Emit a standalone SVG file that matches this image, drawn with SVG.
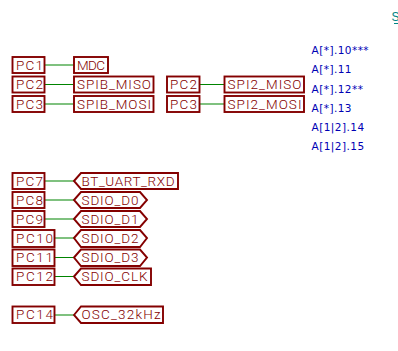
<svg xmlns="http://www.w3.org/2000/svg" width="398" height="351" viewBox="0 0 398 351">
<style>
.b{fill:#fff;stroke:#840000;stroke-width:1.9}
.t{font-family:Roboto,"Liberation Sans",sans-serif;font-weight:300;font-size:13.500px;fill:#840000}
.w{stroke:#008400;stroke-width:1.2;fill:none}
.a{font-family:"DejaVu Sans",sans-serif;font-size:10.500px;fill:#0000b4;letter-spacing:.45px}
</style>
<rect width="398" height="351" fill="#fff"/>
<g id="connectors">
<path class="w" d="M45 65H74M45 84.500H74M45 104H74M200 84.500H225M200 104H225M45 181H74M45 200H74M45 219H74M54 238H74M54 257.500H74M54 276.500H74M54 315H74"/>
</g>
<g id="pc1"><rect class="b" x="12.500" y="57" width="32" height="16"/><text class="t" x="16" y="69.500" textLength="27">PC1</text></g>
<g id="pc2"><rect class="b" x="12.500" y="76.500" width="32" height="16"/><text class="t" x="16" y="89" textLength="27">PC2</text></g>
<g id="pc3"><rect class="b" x="12.500" y="96" width="32" height="16"/><text class="t" x="16" y="108.500" textLength="27">PC3</text></g>
<g id="mdc"><rect class="b" x="74" y="57" width="34" height="16"/><text class="t" x="77" y="69.500" textLength="28">MDC</text></g>
<g id="spib-miso"><rect class="b" x="74" y="76.500" width="79.500" height="16"/><text class="t" x="77" y="89" textLength="74">SPIB_MISO</text></g>
<g id="spib-mosi"><rect class="b" x="74" y="96" width="79.500" height="16"/><text class="t" x="77" y="108.500" textLength="74">SPIB_MOSI</text></g>
<g id="pc2b"><rect class="b" x="167" y="76.500" width="32.500" height="16"/><text class="t" x="170" y="89" textLength="27">PC2</text></g>
<g id="pc3b"><rect class="b" x="167" y="96" width="32.500" height="16"/><text class="t" x="170" y="108.500" textLength="27">PC3</text></g>
<g id="spi2-miso"><rect class="b" x="224.500" y="76.500" width="79.500" height="16"/><text class="t" x="227.500" y="89" textLength="74">SPI2_MISO</text></g>
<g id="spi2-mosi"><rect class="b" x="224.500" y="96" width="79.500" height="16"/><text class="t" x="227.500" y="108.500" textLength="74">SPI2_MOSI</text></g>
<g id="notes">
<text class="a" x="311.500" y="54">A[*].10***</text>
<text class="a" x="311.500" y="73">A[*].11</text>
<text class="a" x="311.500" y="92.500">A[*].12**</text>
<text class="a" x="311.500" y="112">A[*].13</text>
<text class="a" x="311.500" y="131">A[1|2].14</text>
<text class="a" x="311.500" y="150">A[1|2].15</text>
<text x="391.500" y="21" font-family="Liberation Sans,sans-serif" font-size="12" fill="#008484">S</text>
<path d="M394 23.500H398" stroke="#008484" stroke-width="1" fill="none"/>
</g>
<g id="pc7"><rect class="b" x="12.500" y="173" width="32" height="16"/><text class="t" x="16" y="185.500" textLength="27">PC7</text></g>
<g id="pc8"><rect class="b" x="12.500" y="192" width="32" height="16"/><text class="t" x="16" y="204.500" textLength="27">PC8</text></g>
<g id="pc9"><rect class="b" x="12.500" y="211" width="32" height="16"/><text class="t" x="16" y="223.500" textLength="27">PC9</text></g>
<g id="pc10"><rect class="b" x="12.500" y="230" width="42" height="17"/><text class="t" x="16" y="243" textLength="37">PC10</text></g>
<g id="pc11"><rect class="b" x="12.500" y="249.500" width="42" height="16.500"/><text class="t" x="16" y="262" textLength="37">PC11</text></g>
<g id="pc12"><rect class="b" x="12.500" y="268.500" width="42" height="16.500"/><text class="t" x="16" y="281" textLength="37">PC12</text></g>
<g id="pc14"><rect class="b" x="12.500" y="306.500" width="42" height="16.500"/><text class="t" x="16" y="319" textLength="37">PC14</text></g>
<g id="bt-uart-rxd"><path class="b" d="M74 181L81 173H178V189H81Z"/><text class="t" x="81.500" y="185.500" textLength="93">BT_UART_RXD</text></g>
<g id="sdio-d0"><path class="b" d="M74 200L81 192H140L147 200L140 208H81Z"/><text class="t" x="81.500" y="204.500" textLength="57">SDIO_D0</text></g>
<g id="sdio-d1"><path class="b" d="M74 219L81 211H140L147 219L140 227H81Z"/><text class="t" x="81.500" y="223.500" textLength="57">SDIO_D1</text></g>
<g id="sdio-d2"><path class="b" d="M74 238L81 230H140L147 238L140 247H81Z"/><text class="t" x="81.500" y="243" textLength="57">SDIO_D2</text></g>
<g id="sdio-d3"><path class="b" d="M74 257.500L81 249.500H140L147 257.500L140 266H81Z"/><text class="t" x="81.500" y="262" textLength="57">SDIO_D3</text></g>
<g id="sdio-clk"><path class="b" d="M74 276.500L81 268.500H151V285H81Z"/><text class="t" x="81.500" y="281" textLength="66">SDIO_CLK</text></g>
<g id="osc-32khz"><path class="b" d="M74 315L81 306.500H163V323H81Z"/><text class="t" x="81.500" y="319" textLength="79">OSC_32kHz</text></g>
</svg>
